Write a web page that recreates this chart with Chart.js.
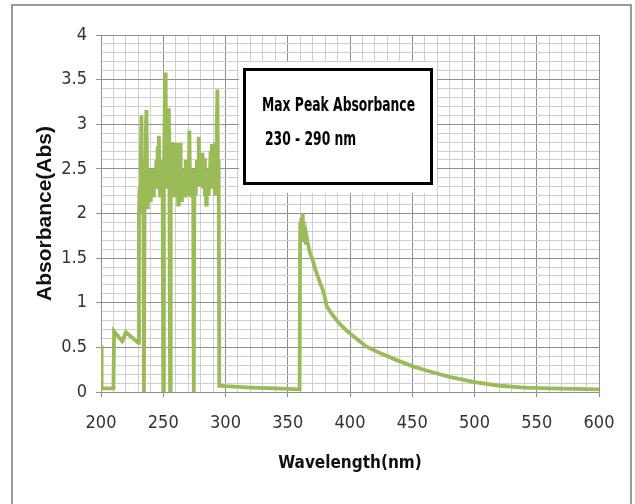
<!DOCTYPE html>
<html>
<head>
<meta charset="utf-8">
<script src="https://cdn.jsdelivr.net/npm/chart.js@4/dist/chart.umd.min.js"></script>
<style>
  html, body { margin: 0; padding: 0; background: #fff; }
  #wrap { width: 635px; height: 504px; position: relative; }
</style>
</head>
<body>
<div id="wrap"><canvas id="absChart"></canvas></div>
<script>
// ---------- data ----------
const wavelength = [
  200, 200.5, 205, 210, 210.5, 217, 220, 230,
  230.5, 231, 231.5, 232, 232.5, 233, 233.5, 234, 234.5, 235, 235.5, 236, 236.5, 237, 237.5, 238, 238.5, 239, 239.5,
  240, 240.5, 241, 241.5, 242, 242.5, 243, 243.5, 244, 244.5, 245, 245.5, 246, 246.5, 247, 247.5, 248, 248.5, 249, 249.5,
  250, 250.5, 251, 251.5, 252, 252.5, 253, 253.5, 254, 254.5, 255, 255.5, 256, 256.5, 257, 257.5, 258, 258.5, 259, 259.5,
  260, 260.5, 261, 261.5, 262, 262.5, 263, 263.5, 264, 264.5, 265, 265.5, 266, 266.5, 267, 267.5, 268, 268.5, 269, 269.5,
  270, 270.5, 271, 271.5, 272, 272.5, 273, 273.5, 274, 274.5, 275, 275.5, 276, 276.5, 277, 277.5, 278, 278.5, 279, 279.5,
  280, 280.5, 281, 281.5, 282, 282.5, 283, 283.5, 284, 284.5, 285, 285.5, 286, 286.5, 287, 287.5, 288, 288.5, 289, 289.5,
  290, 290.5, 291, 291.5, 292, 292.5, 293, 293.5, 294, 294.5, 295,
  296, 300, 320, 340, 359.5,
  360, 360.5, 361, 361.5, 362, 362.5, 363, 363.5, 364, 364.5, 365, 366, 368, 370, 372, 374, 376, 378, 380, 381,
  385, 390, 397, 405, 413, 425, 437, 450, 464, 480, 500, 520, 540, 560, 580, 600
];
const absorbance = [
  0.52, 0.04, 0.04, 0.04, 0.68, 0.57, 0.67, 0.55,
  2.0, 2.3, 2.1, 2.6, 3.1, 2.2, 2.0, 2.4, 0.0, 2.1, 2.6, 2.9, 3.16, 2.5, 2.05, 2.5, 2.3, 2.45, 2.15,
  2.4, 2.5, 2.25, 2.35, 2.2, 2.45, 2.3, 2.5, 2.4, 2.6, 2.3, 2.75, 2.5, 2.87, 2.4, 2.2, 2.5, 2.35, 2.6, 2.2,
  0.0, 2.5, 2.9, 3.58, 2.6, 2.3, 2.7, 2.4, 2.5, 3.18, 2.3, 0.0, 2.5, 2.8, 2.3, 2.6, 2.2, 2.79, 2.4, 2.2,
  2.6, 2.79, 2.3, 2.5, 2.1, 2.7, 2.4, 2.79, 2.3, 2.15, 2.4, 2.2, 2.5, 2.3, 2.45, 2.2, 2.6, 2.3, 2.5, 2.2,
  2.6, 2.4, 2.93, 2.3, 2.5, 2.2, 2.45, 2.3, 2.5, 0.0, 2.3, 2.5, 2.2, 2.4, 2.6, 2.3, 2.5, 2.86, 2.4, 2.3,
  2.55, 2.35, 2.5, 2.68, 2.3, 2.45, 2.62, 2.2, 2.4, 2.1, 2.5, 2.3, 2.45, 2.2, 2.5, 2.35, 2.7, 2.3, 2.78, 2.4,
  2.6, 2.3, 2.7, 2.2, 2.8, 2.5, 3.0, 3.39, 2.3, 2.6, 0.07,
  0.07, 0.065, 0.05, 0.04, 0.03,
  1.9, 1.85, 1.95, 1.7, 2.0, 1.75, 1.85, 1.7, 1.8, 1.65, 1.75, 1.67, 1.55, 1.48, 1.38, 1.3, 1.22, 1.15, 1.05, 0.97,
  0.88, 0.79, 0.69, 0.6, 0.51, 0.43, 0.36, 0.29, 0.23, 0.17, 0.11, 0.07, 0.05, 0.04, 0.035, 0.03
];
const noteLines = ["Max Peak Absorbance", "230 - 290 nm"];

const GREEN = "#9bbb59";
const MAJOR = "#8f8f8f";
const MINOR = "#cfcfcf";
const NARROW = "'Liberation Sans Narrow', 'DejaVu Sans Condensed', 'Liberation Sans', sans-serif";

const points = wavelength.map((w, i) => ({ x: w, y: absorbance[i] }));

function isMajorX(v) { return Math.round(v) % 50 === 0; }
function isMajorY(v) { return Math.round(v * 10) % 5 === 0; }

// frame + text box drawn on top
const decor = {
    id: "decor",
    beforeDraw(chart) {
        const c = chart.ctx;
        c.save();
        c.fillStyle = "#fff";
        c.fillRect(0, 0, chart.width, chart.height);
        c.strokeStyle = "#9a9a9a";
        c.lineWidth = 2;
        c.strokeRect(12, 5, 619, 530);
        c.restore();
    },
    afterDraw(chart) {
        const c = chart.ctx;
        c.save();
        c.fillStyle = "#fff";
        c.fillRect(239, 62, 198, 131);
        c.strokeStyle = "#000";
        c.lineWidth = 3;
        c.strokeRect(244.5, 69.5, 187, 114);
        c.fillStyle = "#000";
        c.textBaseline = "middle";
        c.font = "bold 20px " + NARROW;
        // squeeze to the width of the scanned label
        const k = Math.min(1, 153 / c.measureText(noteLines[0]).width);
        c.translate(262, 0);
        c.scale(k, 1);
        c.fillText(noteLines[0], 0, 106);
        c.fillText(noteLines[1], 3 / k, 140);
        c.restore();
    }
};

const ctx = document.getElementById("absChart").getContext("2d");

new Chart(ctx, {
    type: "line",
    data: {
        datasets: [{
            label: "Absorbance",
            data: points,
            borderColor: GREEN,
            borderWidth: 3.8,
            pointRadius: 0,
            tension: 0,
            fill: false
        }]
    },
    options: {
        responsive: true,
        maintainAspectRatio: false,
        animation: false,
        parsing: false,
        layout: { padding: { left: 0, top: 35, right: 36, bottom: 0 } },
        plugins: {
            legend: { display: false },
            tooltip: { enabled: false }
        },
        scales: {
            x: {
                type: "linear",
                min: 200,
                max: 600,
                afterFit(s) { s.height = 112; s.paddingLeft = 0; s.paddingRight = 0; },
                ticks: {
                    stepSize: 10,
                    autoSkip: false,
                    maxRotation: 0,
                    padding: 16,
                    color: "#333",
                    font: { family: NARROW, size: 18 },
                    callback: v => isMajorX(v) ? String(Math.round(v)) : ""
                },
                grid: {
                    color: c => isMajorX(c.tick.value) ? MAJOR : MINOR,
                    tickColor: c => isMajorX(c.tick.value) ? MAJOR : "rgba(0,0,0,0)",
                    tickLength: 5,
                    lineWidth: 1
                },
                border: { color: MAJOR },
                title: {
                    display: true,
                    text: "Wavelength(nm)",
                    color: "#111",
                    font: { family: NARROW, size: 17, weight: "bold" },
                    padding: { top: 0, bottom: 30 }
                }
            },
            y: {
                min: 0,
                max: 4,
                afterFit(s) { s.width = 101; s.paddingTop = 0; s.paddingBottom = 0; },
                ticks: {
                    stepSize: 0.1,
                    autoSkip: false,
                    padding: 9,
                    color: "#333",
                    font: { family: NARROW, size: 18 },
                    callback: v => isMajorY(v) ? String(Math.round(v * 10) / 10) : ""
                },
                grid: {
                    color: c => isMajorY(c.tick.value) ? MAJOR : MINOR,
                    tickColor: c => isMajorY(c.tick.value) ? MAJOR : "rgba(0,0,0,0)",
                    tickLength: 5,
                    lineWidth: 1
                },
                border: { color: MAJOR },
                title: {
                    display: true,
                    text: "Absorbance(Abs)",
                    color: "#111",
                    font: { family: "'Liberation Sans', Arial, sans-serif", size: 21, weight: "bold" },
                    padding: { top: 33, bottom: 0 }
                }
            }
        }
    },
    plugins: [decor]
});
</script>
</body>
</html>
